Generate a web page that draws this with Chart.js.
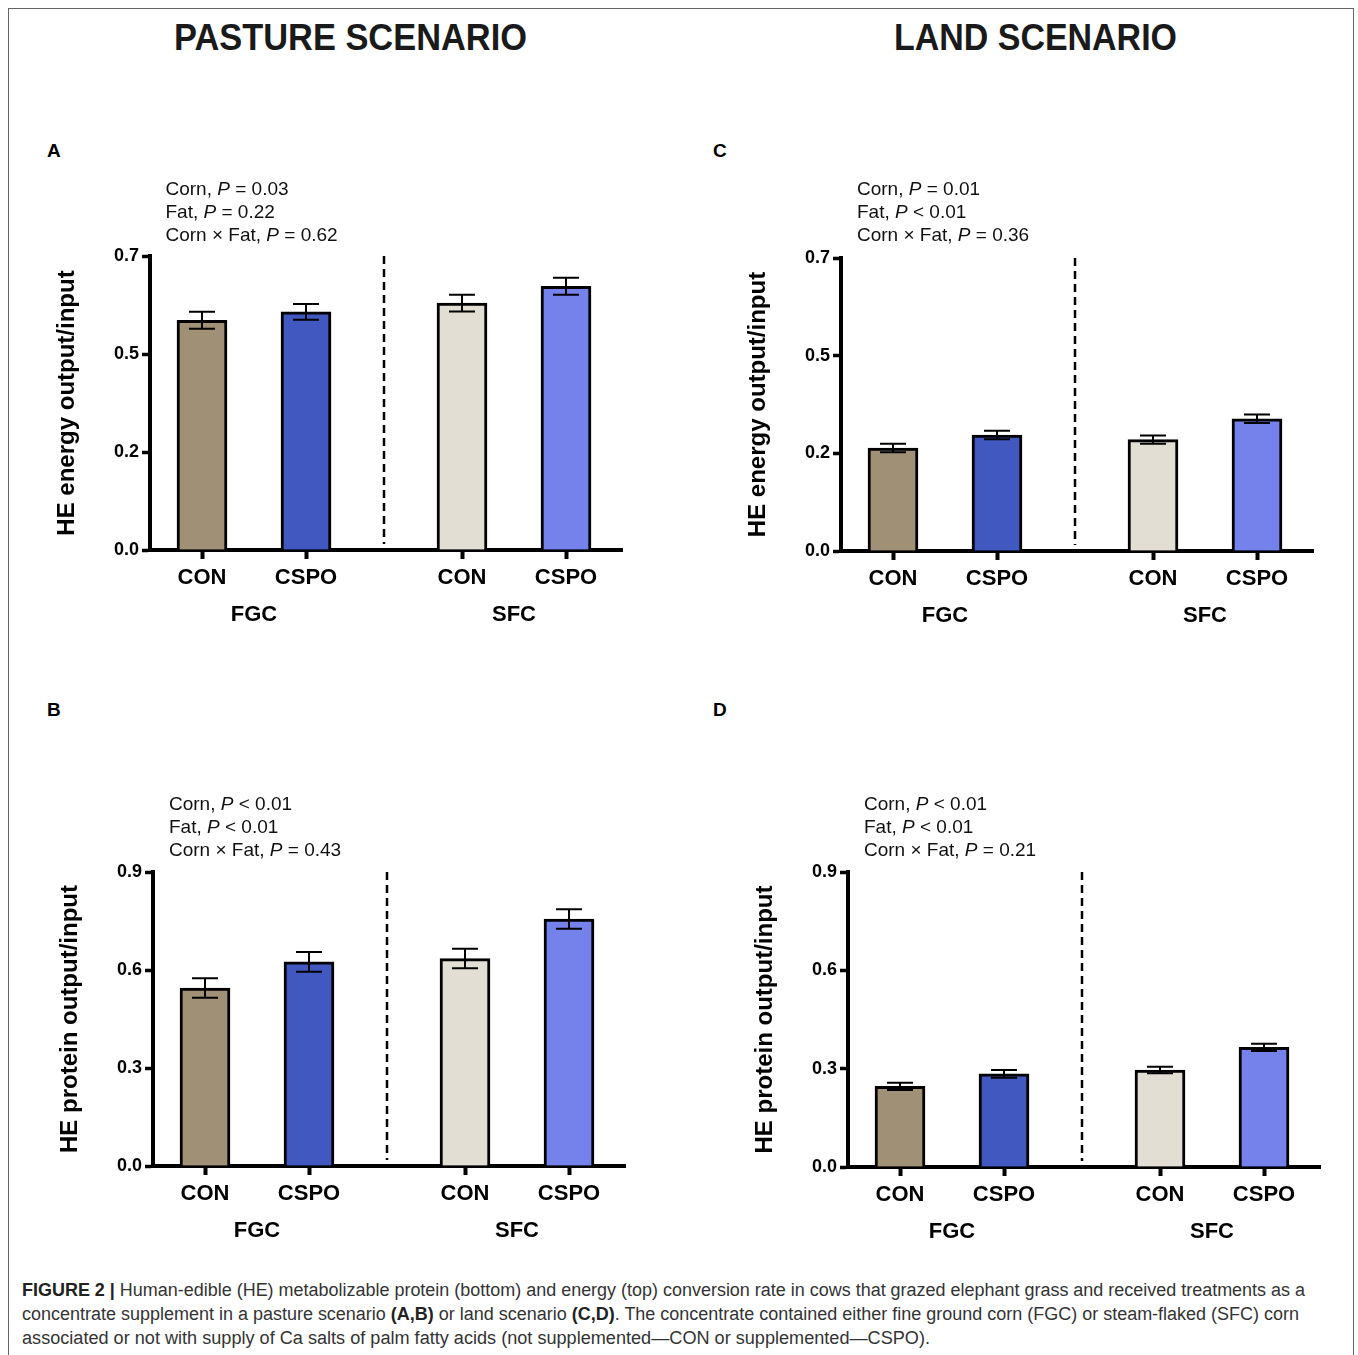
<!DOCTYPE html>
<html><head><meta charset="utf-8">
<script src="https://cdn.jsdelivr.net/npm/chart.js@4.4.1/dist/chart.umd.min.js"></script>
<style>
body{margin:0;width:1358px;height:1355px;position:relative;background:#fff;font-family:"Liberation Sans",Arial,sans-serif;overflow:hidden}
.frame{position:absolute;left:8px;top:8px;width:1346px;height:1400px;border:1.5px solid #666;box-sizing:border-box}
.title{position:absolute;font-weight:bold;font-size:37px;line-height:40px;white-space:nowrap;color:#1a1a1a;transform-origin:left center}
.letter{position:absolute;font-weight:bold;font-size:19px;line-height:20px;color:#000}
.ann{position:absolute;font-size:19px;line-height:23px;white-space:nowrap;color:#111}
canvas{position:absolute}
.cap{position:absolute;left:22px;font-size:18px;line-height:22px;white-space:nowrap;color:#333;transform-origin:left center}
</style></head><body>
<div class="frame"></div>
<script>
// ---------------- DATA ----------------
const treatments = ["CON", "CSPO", "CON", "CSPO"];
const cornGroups = ["FGC", "SFC"];
const energyPasture = [0.547, 0.567, 0.588, 0.628];
const energyPastureSem = [0.020, 0.019, 0.020, 0.020];
const proteinPasture = [0.545, 0.625, 0.635, 0.756];
const proteinPastureSem = [0.030, 0.030, 0.030, 0.030];
const energyLand = [0.246, 0.277, 0.266, 0.316];
const energyLandSem = [0.010, 0.010, 0.010, 0.010];
const proteinLand = [0.246, 0.284, 0.296, 0.365];
const proteinLandSem = [0.011, 0.012, 0.010, 0.011];
const energyTicks = ["0.0", "0.2", "0.5", "0.7"];
const proteinTicks = ["0.0", "0.3", "0.6", "0.9"];
const statsA = [["Corn, ", "=", "0.03"], ["Fat, ", "=", "0.22"], ["Corn × Fat, ", "=", "0.62"]];
const statsB = [["Corn, ", "<", "0.01"], ["Fat, ", "<", "0.01"], ["Corn × Fat, ", "=", "0.43"]];
const statsC = [["Corn, ", "=", "0.01"], ["Fat, ", "<", "0.01"], ["Corn × Fat, ", "=", "0.36"]];
const statsD = [["Corn, ", "<", "0.01"], ["Fat, ", "<", "0.01"], ["Corn × Fat, ", "=", "0.21"]];

// ---------------- STYLE ----------------
const barColors = ["#A09076", "#4058C0", "#E2DED3", "#7682EB"];
const FONT = '"Liberation Sans", Arial, sans-serif';

function addEl(cls, html, left, top){
  const d = document.createElement('div');
  d.className = cls; d.innerHTML = html;
  d.style.left = left + 'px'; d.style.top = top + 'px';
  document.body.appendChild(d); return d;
}
function fit(el, w){
  const nat = el.getBoundingClientRect().width;
  el.style.transform = 'scaleX(' + (w / nat) + ')';
}

// titles
fit(addEl('title', 'PASTURE SCENARIO', 174, 18), 353);
fit(addEl('title', 'LAND SCENARIO', 894, 18), 283);
// panel letters
addEl('letter', 'A', 47, 141); addEl('letter', 'C', 713, 141);
addEl('letter', 'B', 47, 700); addEl('letter', 'D', 713, 700);

const extras = {
  id: 'extras',
  afterDatasetsDraw(chart, args, o){
    const {ctx, chartArea} = chart; const x = chart.scales.x, y = chart.scales.y;
    const d = chart.data.datasets[0].data;
    ctx.save();
    ctx.strokeStyle = '#000'; ctx.lineWidth = 2;
    d.forEach((p, i) => {
      const px = x.getPixelForValue(p.x);
      const hi = y.getPixelForValue(p.y + o.sem[i]);
      const lo = y.getPixelForValue(p.y - o.sem[i]);
      ctx.beginPath();
      ctx.moveTo(px, hi); ctx.lineTo(px, lo);
      ctx.moveTo(px - 13, hi); ctx.lineTo(px + 13, hi);
      ctx.moveTo(px - 13, lo); ctx.lineTo(px + 13, lo);
      ctx.stroke();
    });
    const sx = x.getPixelForValue(o.sep);
    ctx.setLineDash([8, 5]); ctx.lineWidth = 2.5;
    ctx.beginPath(); ctx.moveTo(sx, chartArea.top); ctx.lineTo(sx, chartArea.bottom - 6); ctx.stroke();
    ctx.setLineDash([]);
    ctx.fillStyle = '#000'; ctx.font = 'bold 22px ' + FONT;
    ctx.textAlign = 'center'; ctx.textBaseline = 'middle';
    o.groupPos.forEach((g, i) => ctx.fillText(cornGroups[i], x.getPixelForValue(g), chartArea.bottom + 65));
    ctx.restore();
  }
};

function makePanel(opt){
  const W = 610, H = 400, padL = 118, padT = 16, padR = 20;
  const chartH = opt.bottom - opt.top;
  const cv = document.createElement('canvas');
  cv.width = W; cv.height = H;
  cv.style.left = (opt.axisX - padL) + 'px'; cv.style.top = (opt.top - padT) + 'px';
  cv.style.width = W + 'px'; cv.style.height = H + 'px';
  document.body.appendChild(cv);
  const pos = opt.values.map((v, i) => Math.floor(i / 2) * 5 + (i % 2) * 2 + 1);
  const groupPos = [2, 7];
  const max = parseFloat(opt.ticks[opt.ticks.length - 1]);
  const tickVals = opt.ticks.map((t, i) => max * i / (opt.ticks.length - 1));
  new Chart(cv, {
    type: 'bar',
    data: {datasets: [{
      data: opt.values.map((v, i) => ({x: pos[i], y: v})),
      backgroundColor: barColors, borderColor: '#000', borderWidth: 3, barThickness: 50
    }]},
    options: {
      responsive: false, animation: false, devicePixelRatio: 1,
      layout: {padding: {left: 0, top: padT, right: padR, bottom: 0}},
      plugins: {legend: {display: false}, tooltip: {enabled: false},
        extras: {sem: opt.sem, sep: 4.5, groupPos: groupPos}},
      scales: {
        x: {type: 'linear', min: 0, max: 472 / 52, offset: false,
          afterBuildTicks: s => { s.ticks = pos.map(v => ({value: v})); },
          ticks: {callback: (v, i) => treatments[i], font: {family: FONT, size: 22, weight: 'bold'},
            color: '#000', padding: 6, maxRotation: 0, autoSkip: false},
          grid: {display: true, offset: false, drawOnChartArea: false, drawTicks: true, tickLength: 9,
            tickWidth: 4, tickColor: '#000', color: '#000'},
          border: {display: true, width: 4, color: '#000'},
          afterFit: s => { s.height = H - padT - chartH; }
        },
        y: {min: 0, max: max,
          afterBuildTicks: s => { s.ticks = tickVals.map(v => ({value: v})); },
          ticks: {callback: (v, i) => opt.ticks[i], font: {family: FONT, size: 18, weight: 'bold'},
            color: '#000', padding: 3},
          grid: {display: true, drawOnChartArea: false, drawTicks: true, tickLength: 8,
            tickWidth: 3.5, tickColor: '#000', color: '#000'},
          border: {display: true, width: 4, color: '#000'},
          title: {display: true, text: opt.title, color: '#000',
            font: {family: FONT, size: 24, weight: 'bold'}, padding: {top: 20.6, bottom: 0}},
          afterFit: s => { s.width = padL; }
        }
      }
    },
    plugins: [extras]
  });
  const html = opt.stats.map(s => s[0] + '<i>P</i> ' + s[1] + ' ' + s[2]).join('<br>');
  addEl('ann', html, opt.axisX + 16, opt.annY - 11.5);
}

makePanel({axisX: 149.5, top: 256, bottom: 550, annY: 188, values: energyPasture, sem: energyPastureSem,
  ticks: energyTicks, title: 'HE energy output/input', stats: statsA});
makePanel({axisX: 841, top: 258, bottom: 551, annY: 188, values: energyLand, sem: energyLandSem,
  ticks: energyTicks, title: 'HE energy output/input', stats: statsC});
makePanel({axisX: 153, top: 872, bottom: 1166, annY: 803, values: proteinPasture, sem: proteinPastureSem,
  ticks: proteinTicks, title: 'HE protein output/input', stats: statsB});
makePanel({axisX: 848, top: 872, bottom: 1167, annY: 803, values: proteinLand, sem: proteinLandSem,
  ticks: proteinTicks, title: 'HE protein output/input', stats: statsD});

// caption
const capLines = [
  '<b style="color:#222">FIGURE 2 |</b> Human-edible (HE) metabolizable protein (bottom) and energy (top) conversion rate in cows that grazed elephant grass and received treatments as a',
  'concentrate supplement in a pasture scenario <b style="color:#222">(A,B)</b> or land scenario <b style="color:#222">(C,D)</b>. The concentrate contained either fine ground corn (FGC) or steam-flaked (SFC) corn',
  'associated or not with supply of Ca salts of palm fatty acids (not supplemented\u2014CON or supplemented\u2014CSPO).'
];
const capWidths = [1283, 1277, 908];
capLines.forEach((t, i) => fit(addEl('cap', t, 22, 1290 + i * 24 - 11), capWidths[i]));
</script>
</body></html>
